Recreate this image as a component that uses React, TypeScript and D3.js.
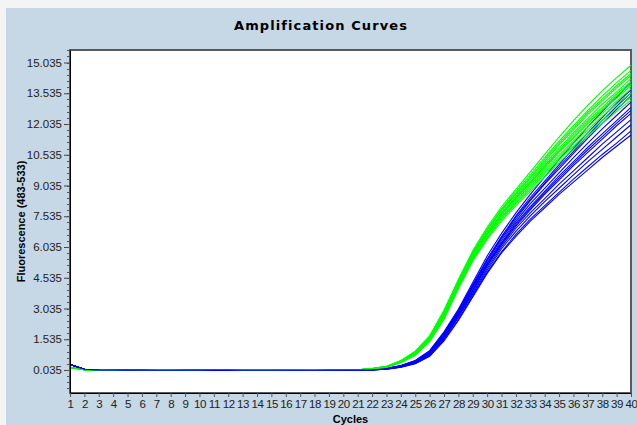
import React, { useEffect, useRef } from 'react';
import * as d3 from 'd3';

// cycle numbers on the x axis
const cycles = [1, 2, 3, 4, 5, 6, 7, 8, 9, 10, 11, 12, 13, 14, 15, 16, 17, 18, 19, 20,
    21, 22, 23, 24, 25, 26, 27, 28, 29, 30, 31, 32, 33, 34, 35, 36, 37, 38, 39, 40];

const yTickLabels = ['0.035', '1.535', '3.035', '4.535', '6.035', '7.535', '9.035',
    '10.535', '12.035', '13.535', '15.035'];

// flat part, cycles 1-21
const greenBaseline = [0.16, 0.05, 0.04, 0.035, 0.035, 0.03, 0.03, 0.03, 0.025, 0.025, 0.025,
    0.025, 0.03, 0.03, 0.03, 0.035, 0.035, 0.04, 0.04, 0.045, 0.05];
const blueBaseline = [0.3, 0.07, 0.04, 0.035, 0.03, 0.03, 0.025, 0.02, 0.02, 0.02, 0.015,
    0.015, 0.02, 0.02, 0.02, 0.025, 0.025, 0.025, 0.03, 0.03, 0.03];

// cycles 22-40
const greenCurves = [
    [0.1, 0.22, 0.5, 0.95, 1.7, 2.95, 4.45, 5.85, 7.0, 8.0, 8.85, 9.7, 10.55, 11.4, 12.2, 12.95, 13.65, 14.3, 14.9],
    [0.1, 0.21, 0.48, 0.9, 1.65, 2.9, 4.4, 5.8, 6.9, 7.9, 8.75, 9.55, 10.4, 11.2, 11.95, 12.7, 13.4, 14.05, 14.65],
    [0.1, 0.21, 0.47, 0.89, 1.62, 2.88, 4.38, 5.75, 6.88, 7.85, 8.65, 9.45, 10.3, 11.1, 11.85, 12.6, 13.25, 13.9, 14.5],
    [0.09, 0.2, 0.47, 0.88, 1.6, 2.85, 4.35, 5.7, 6.85, 7.8, 8.6, 9.4, 10.2, 11.0, 11.75, 12.5, 13.15, 13.8, 14.4],
    [0.1, 0.2, 0.45, 0.86, 1.58, 2.8, 4.3, 5.65, 6.75, 7.7, 8.5, 9.3, 10.1, 10.85, 11.6, 12.3, 13.0, 13.6, 14.25],
    [0.08, 0.19, 0.44, 0.85, 1.55, 2.75, 4.25, 5.6, 6.7, 7.65, 8.45, 9.2, 10.0, 10.75, 11.5, 12.2, 12.85, 13.5, 14.1],
    [0.09, 0.19, 0.43, 0.84, 1.53, 2.72, 4.22, 5.58, 6.68, 7.62, 8.42, 9.18, 9.95, 10.7, 11.4, 12.1, 12.75, 13.4, 14.0],
    [0.09, 0.19, 0.43, 0.83, 1.52, 2.7, 4.2, 5.55, 6.65, 7.6, 8.4, 9.15, 9.9, 10.65, 11.35, 12.05, 12.7, 13.3, 13.9],
    [0.08, 0.18, 0.42, 0.8, 1.5, 2.65, 4.15, 5.5, 6.6, 7.5, 8.3, 9.05, 9.8, 10.5, 11.2, 11.9, 12.55, 13.15, 13.75],
    [0.08, 0.18, 0.41, 0.78, 1.47, 2.6, 4.1, 5.45, 6.5, 7.45, 8.2, 8.95, 9.7, 10.4, 11.1, 11.75, 12.4, 13.0, 13.55],
    [0.07, 0.17, 0.4, 0.76, 1.44, 2.55, 4.05, 5.4, 6.45, 7.4, 8.15, 8.85, 9.6, 10.3, 10.95, 11.6, 12.2, 12.8, 13.35],
    [0.07, 0.17, 0.39, 0.75, 1.42, 2.5, 4.0, 5.35, 6.4, 7.3, 8.05, 8.75, 9.45, 10.15, 10.8, 11.45, 12.05, 12.65, 13.2],
];

const blueCurves = [
    [0.06, 0.12, 0.25, 0.5, 0.98, 1.9, 3.0, 4.3, 5.6, 6.7, 7.7, 8.6, 9.45, 10.3, 11.1, 11.9, 12.65, 13.35, 14.05],
    [0.06, 0.12, 0.24, 0.48, 0.95, 1.85, 2.95, 4.2, 5.45, 6.55, 7.55, 8.45, 9.25, 10.05, 10.85, 11.6, 12.35, 13.05, 13.7],
    [0.06, 0.11, 0.24, 0.47, 0.92, 1.82, 2.9, 4.15, 5.4, 6.5, 7.5, 8.35, 9.15, 9.95, 10.7, 11.45, 12.2, 12.9, 13.55],
    [0.05, 0.11, 0.23, 0.46, 0.9, 1.8, 2.85, 4.1, 5.35, 6.45, 7.4, 8.3, 9.1, 9.85, 10.6, 11.35, 12.05, 12.75, 13.4],
    [0.05, 0.11, 0.22, 0.44, 0.87, 1.75, 2.8, 4.05, 5.25, 6.35, 7.3, 8.15, 8.9, 9.65, 10.4, 11.1, 11.8, 12.45, 13.1],
    [0.05, 0.1, 0.21, 0.42, 0.84, 1.7, 2.75, 3.95, 5.2, 6.25, 7.2, 8.0, 8.75, 9.5, 10.2, 10.9, 11.55, 12.2, 12.85],
    [0.05, 0.1, 0.2, 0.41, 0.82, 1.67, 2.72, 3.92, 5.15, 6.2, 7.12, 7.92, 8.68, 9.4, 10.1, 10.78, 11.42, 12.08, 12.7],
    [0.05, 0.1, 0.2, 0.4, 0.8, 1.65, 2.7, 3.9, 5.1, 6.15, 7.05, 7.85, 8.6, 9.3, 10.0, 10.65, 11.3, 11.95, 12.55],
    [0.04, 0.09, 0.19, 0.38, 0.77, 1.6, 2.65, 3.8, 5.0, 6.05, 6.95, 7.7, 8.4, 9.1, 9.75, 10.4, 11.05, 11.65, 12.25],
    [0.04, 0.09, 0.18, 0.37, 0.74, 1.55, 2.6, 3.75, 4.9, 5.95, 6.8, 7.55, 8.25, 8.9, 9.55, 10.2, 10.8, 11.4, 12.0],
    [0.04, 0.08, 0.17, 0.35, 0.72, 1.5, 2.5, 3.65, 4.8, 5.8, 6.65, 7.4, 8.05, 8.7, 9.35, 9.95, 10.55, 11.1, 11.7],
    [0.04, 0.08, 0.17, 0.34, 0.7, 1.45, 2.45, 3.6, 4.75, 5.75, 6.55, 7.3, 7.95, 8.6, 9.2, 9.8, 10.4, 10.95, 11.5],
];

const width = 637;
const height = 425;
const plot = { left: 70, right: 631, top: 50, bottom: 393 };

export default function App() {
    const svgRef = useRef<SVGSVGElement>(null);

    useEffect(() => {
        const svg = d3.select(svgRef.current);
        svg.selectAll('*').remove();

        const x = d3.scaleLinear().domain([1, 40]).range([plot.left, plot.right]);
        const y = d3.scaleLinear().domain([-1.087, 15.645]).range([plot.bottom, plot.top]);

        // backgrounds
        svg.append('rect').attr('width', width).attr('height', height).attr('fill', '#f4f4f4');
        svg.append('rect').attr('x', 6).attr('y', 8).attr('width', width - 6).attr('height', height - 8)
            .attr('fill', '#c6d7e6');
        svg.append('rect')
            .attr('x', plot.left).attr('y', plot.top)
            .attr('width', plot.right - plot.left).attr('height', plot.bottom - plot.top)
            .attr('fill', '#fff')
            .attr('stroke', '#5a5a5a').attr('stroke-width', 2);

        // title
        svg.append('text')
            .attr('x', 321).attr('y', 30)
            .attr('text-anchor', 'middle')
            .attr('font-family', 'DejaVu Sans, sans-serif')
            .attr('font-weight', 'bold')
            .attr('font-size', 13)
            .attr('letter-spacing', 1.1)
            .attr('fill', '#000')
            .text('Amplification Curves');

        // curves
        const line = d3.line<number>()
            .x((d, i) => x(cycles[i]))
            .y(d => y(d));

        const curves = svg.append('g');
        greenCurves.forEach((g, i) => {
            curves.append('path')
                .attr('d', line([...greenBaseline, ...g]))
                .attr('fill', 'none').attr('stroke', '#00ff00').attr('stroke-width', 1.1);
            curves.append('path')
                .attr('d', line([...blueBaseline, ...blueCurves[i]]))
                .attr('fill', 'none').attr('stroke', '#0000ff').attr('stroke-width', 1.1);
        });

        // y axis
        const yAxis = d3.axisLeft(y)
            .tickValues(yTickLabels.map(Number))
            .tickFormat((d, i) => yTickLabels[i])
            .tickSize(6)
            .tickSizeOuter(0)
            .tickPadding(2);
        const yg = svg.append('g')
            .attr('transform', `translate(${plot.left},0)`)
            .call(yAxis);
        yg.selectAll('text')
            .attr('font-family', 'Liberation Sans, Arial, sans-serif')
            .attr('font-size', 11.5)
            .attr('fill', '#222');
        yg.selectAll('line').attr('stroke', '#444');
        yg.select('.domain').attr('stroke', '#000');

        // y minor ticks
        const minor = d3.range(-0.865, 15.7, 0.3);
        svg.append('g').selectAll('line')
            .data(minor)
            .join('line')
            .attr('x1', plot.left - 3).attr('x2', plot.left)
            .attr('y1', d => Math.round(y(d)) + 0.5).attr('y2', d => Math.round(y(d)) + 0.5)
            .attr('stroke', '#555');

        // x axis
        const xAxis = d3.axisBottom(x)
            .tickValues(cycles)
            .tickFormat(d3.format('d'))
            .tickSize(4)
            .tickSizeOuter(0)
            .tickPadding(3);
        const xg = svg.append('g')
            .attr('transform', `translate(0,${plot.bottom})`)
            .call(xAxis);
        xg.selectAll('text')
            .attr('font-family', 'Liberation Sans, Arial, sans-serif')
            .attr('font-size', 11.5)
            .attr('letter-spacing', -0.4)
            .attr('fill', '#222');
        xg.selectAll('line').attr('stroke', '#555');
        xg.select('.domain').attr('stroke', '#000');

        // axis titles
        svg.append('text')
            .attr('x', (plot.left + plot.right) / 2).attr('y', 423)
            .attr('text-anchor', 'middle')
            .attr('font-family', 'Liberation Sans, Arial, sans-serif')
            .attr('font-weight', 'bold')
            .attr('font-size', 11)
            .text('Cycles');

        svg.append('text')
            .attr('transform', `translate(25,${(plot.top + plot.bottom) / 2}) rotate(-90)`)
            .attr('text-anchor', 'middle')
            .attr('font-family', 'Liberation Sans, Arial, sans-serif')
            .attr('font-weight', 'bold')
            .attr('font-size', 11)
            .text('Fluorescence (483-533)');
    }, []);

    return (
        <>
            <style>{'body { margin: 0; }'}</style>
            <svg ref={svgRef} width={width} height={height} style={{ display: 'block' }} />
        </>
    );
}
